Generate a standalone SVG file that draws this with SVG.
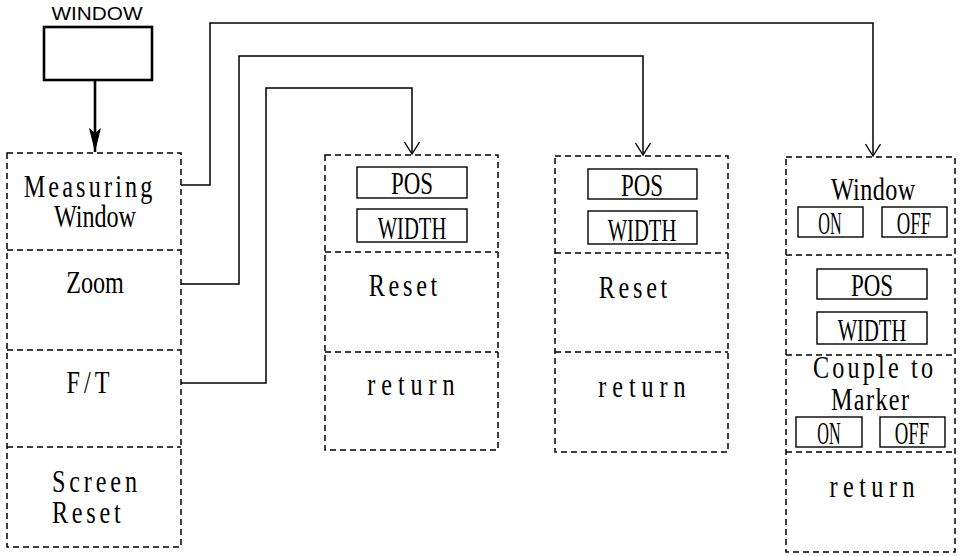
<svg xmlns="http://www.w3.org/2000/svg" width="959" height="556" viewBox="0 0 959 556">
<style>
.dash{fill:none;stroke:#000;stroke-width:1.5;stroke-dasharray:6 4}
.btn{fill:none;stroke:#000;stroke-width:1.4}
.conn{fill:none;stroke:#000;stroke-width:1.5}
.t{font-family:"Liberation Serif",serif;font-size:31px;fill:#000;text-anchor:middle}
.ts{font-family:"Liberation Serif",serif;font-size:31px;fill:#000}
</style>
<defs>
<marker id="v" markerWidth="16" markerHeight="16" refX="13" refY="8" orient="auto" markerUnits="userSpaceOnUse" viewBox="0 0 16 16">
<path d="M1 0.5 L13 8 L1 15.5" fill="none" stroke="#000" stroke-width="1.4"/>
</marker>
<marker id="f" markerWidth="26" markerHeight="14" refX="25" refY="7" orient="auto" markerUnits="userSpaceOnUse" viewBox="0 0 26 14">
<path d="M1 1 L25 7 L1 13 L6 7 Z" fill="#000"/>
</marker>
</defs>

<g id="window-key">
<text x="97" y="20" font-family="Liberation Sans,sans-serif" font-size="18" text-anchor="middle" textLength="91" lengthAdjust="spacingAndGlyphs">WINDOW</text>
<rect x="44" y="27" width="108" height="53" fill="none" stroke="#000" stroke-width="2.6"/>
</g>

<g id="menu-main">
<rect class="dash" x="7" y="153" width="174" height="394"/>
<line class="dash" x1="7" y1="250" x2="181" y2="250"/>
<line class="dash" x1="7" y1="350" x2="181" y2="350"/>
<line class="dash" x1="7" y1="447" x2="181" y2="447"/>
<text class="t" transform="translate(88 197) scale(0.78 1)" textLength="165" lengthAdjust="spacing">Measuring</text>
<text class="t" transform="translate(95 227) scale(0.78 1)" textLength="105" lengthAdjust="spacing">Window</text>
<text class="t" transform="translate(95 293) scale(0.78 1)" textLength="74" lengthAdjust="spacing">Zoom</text>
<text class="t" transform="translate(88 393) scale(0.78 1)" textLength="55" lengthAdjust="spacing">F/T</text>
<text class="ts" transform="translate(52 492) scale(0.78 1)" textLength="109" lengthAdjust="spacing">Screen</text>
<text class="ts" transform="translate(52 523) scale(0.78 1)" textLength="88" lengthAdjust="spacing">Reset</text>
</g>

<g id="menu-zoom">
<rect class="dash" x="325" y="155" width="173" height="295"/>
<line class="dash" x1="325" y1="252" x2="498" y2="252"/>
<line class="dash" x1="325" y1="352" x2="498" y2="352"/>
<rect class="btn" x="357" y="167" width="110" height="31"/>
<rect class="btn" x="357" y="209" width="110" height="33"/>
<text class="t" transform="translate(412 194) scale(0.78 1)" textLength="54" lengthAdjust="spacingAndGlyphs">POS</text>
<text class="t" transform="translate(412 239) scale(0.78 1)" textLength="88" lengthAdjust="spacingAndGlyphs">WIDTH</text>
<text class="t" transform="translate(403 296) scale(0.78 1)" textLength="88" lengthAdjust="spacing">Reset</text>
<text class="t" transform="translate(411 395) scale(0.78 1)" textLength="112" lengthAdjust="spacing">return</text>
</g>

<g id="menu-ft">
<rect class="dash" x="555" y="156" width="173" height="296"/>
<line class="dash" x1="555" y1="253" x2="728" y2="253"/>
<line class="dash" x1="555" y1="352" x2="728" y2="352"/>
<rect class="btn" x="588" y="169" width="109" height="30"/>
<rect class="btn" x="588" y="211" width="109" height="33"/>
<text class="t" transform="translate(642 196) scale(0.78 1)" textLength="54" lengthAdjust="spacingAndGlyphs">POS</text>
<text class="t" transform="translate(642 241) scale(0.78 1)" textLength="88" lengthAdjust="spacingAndGlyphs">WIDTH</text>
<text class="t" transform="translate(633 298) scale(0.78 1)" textLength="88" lengthAdjust="spacing">Reset</text>
<text class="t" transform="translate(642 397) scale(0.78 1)" textLength="112" lengthAdjust="spacing">return</text>
</g>

<g id="menu-measuring-window">
<rect class="dash" x="786" y="157" width="169" height="395"/>
<line class="dash" x1="786" y1="255" x2="955" y2="255"/>
<line class="dash" x1="786" y1="355" x2="955" y2="355"/>
<line class="dash" x1="786" y1="452" x2="955" y2="452"/>
<text class="t" transform="translate(873 200) scale(0.78 1)" textLength="108" lengthAdjust="spacing">Window</text>
<rect class="btn" x="798" y="207" width="65" height="30"/>
<rect class="btn" x="882" y="207" width="65" height="30"/>
<text class="t" transform="translate(830 234) scale(0.78 1)" textLength="30" lengthAdjust="spacingAndGlyphs">ON</text>
<text class="t" transform="translate(914 234) scale(0.78 1)" textLength="44" lengthAdjust="spacingAndGlyphs">OFF</text>
<rect class="btn" x="817" y="269" width="110" height="30"/>
<rect class="btn" x="817" y="312" width="110" height="32"/>
<text class="t" transform="translate(872 296) scale(0.78 1)" textLength="54" lengthAdjust="spacingAndGlyphs">POS</text>
<text class="t" transform="translate(872 341) scale(0.78 1)" textLength="88" lengthAdjust="spacingAndGlyphs">WIDTH</text>
<text class="t" transform="translate(873 378) scale(0.78 1)" textLength="154" lengthAdjust="spacing">Couple to</text>
<text class="t" transform="translate(870 410) scale(0.78 1)" textLength="100" lengthAdjust="spacing">Marker</text>
<rect class="btn" x="796" y="417" width="66" height="30"/>
<rect class="btn" x="880" y="417" width="65" height="30"/>
<text class="t" transform="translate(829 444) scale(0.78 1)" textLength="30" lengthAdjust="spacingAndGlyphs">ON</text>
<text class="t" transform="translate(912 444) scale(0.78 1)" textLength="44" lengthAdjust="spacingAndGlyphs">OFF</text>
<text class="t" transform="translate(872 497) scale(0.78 1)" textLength="109" lengthAdjust="spacing">return</text>
</g>

<g id="connectors">
<path d="M95 80 V152" fill="none" stroke="#000" stroke-width="2.6" marker-end="url(#f)"/>
<path class="conn" d="M181 185 H210 V23 H873 V156" marker-end="url(#v)"/>
<path class="conn" d="M181 284 H239 V56 H643 V155" marker-end="url(#v)"/>
<path class="conn" d="M181 383 H266 V88 H412 V154" marker-end="url(#v)"/>
</g>
</svg>
